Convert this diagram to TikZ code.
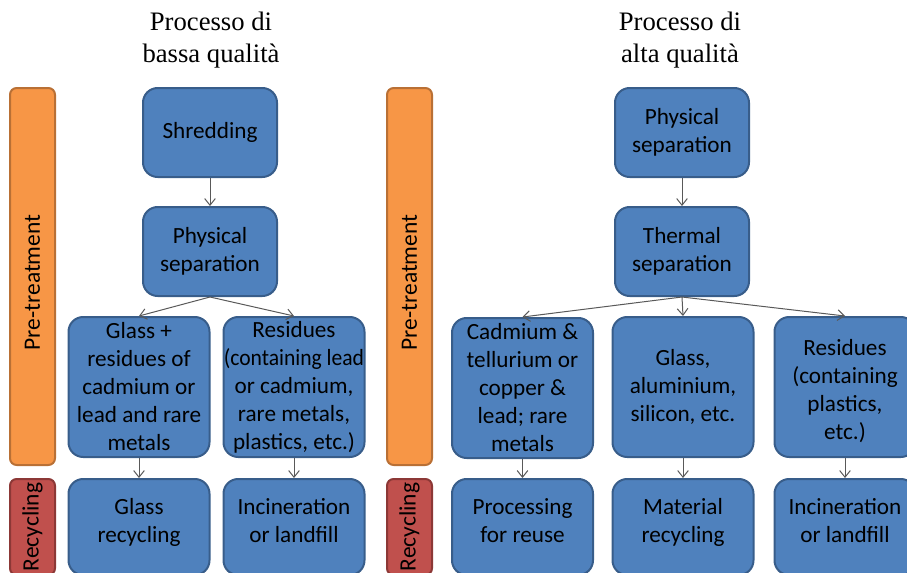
\documentclass[tikz,border=0pt]{standalone}
\usepackage{fontspec}
\setmainfont{Liberation Serif}
\newfontfamily\boxfont{Carlito}
\usetikzlibrary{arrows.meta}

\definecolor{boxfill}{HTML}{4F81BD}
\definecolor{boxline}{HTML}{385D8A}
\definecolor{prefill}{HTML}{F79646}
\definecolor{preline}{HTML}{B97035}
\definecolor{recfill}{HTML}{C0504D}
\definecolor{recline}{HTML}{8C3836}
\definecolor{conngray}{HTML}{595959}

\tikzset{every picture/.style={line width=0.75pt}}
\tikzset{
stepbox/.style={draw=boxline, fill=boxfill, line width=1.5pt, rounded corners=11pt,
  align=center, inner xsep=0pt, inner ysep=1pt, font=\boxfont\fontsize{17.4}{21}\selectfont},
topbox/.style={stepbox, minimum width=100.5pt, minimum height=66.75pt},
midbox/.style={stepbox, minimum width=105.75pt, minimum height=105pt},
lowbox/.style={stepbox, minimum width=105.75pt, minimum height=72pt, text depth=10pt},
phase/.style={rotate=90, line width=1.5pt, rounded corners=5pt, inner sep=0pt,
  minimum height=33.75pt, font=\boxfont\fontsize{17.6}{21}\selectfont},
prebar/.style={phase, draw=preline, fill=prefill, minimum width=282.75pt},
recbar/.style={phase, draw=recline, fill=recfill, minimum width=72pt},
title/.style={align=center, font=\fontsize{20}{23.5}\selectfont},
conn/.style={draw=conngray, line width=0.75pt, -{Straight Barb[length=5pt,width=8pt]}}
}

\begin{document}
\begin{tikzpicture}[x=0.75pt,y=0.75pt,yscale=-1,xscale=1]
\useasboundingbox (0,0) rectangle (907,572);
\clip (0,0) rectangle (907,572);

%Titles
\node[title] (lowtitle) at (211,40) {Processo di\\bassa qualità};
\node[title] (hightitle) at (680,40) {Processo di\\alta qualità};

%Phase bars
\node[prebar] (preL) at (32.5,276.5) {Pre-treatment\kern9pt};
\node[recbar] (recL) at (32.5,527) {Recycling};
\node[prebar] (preR) at (409.5,276.5) {Pre-treatment\kern9pt};
\node[recbar] (recR) at (409.5,527) {Recycling};

%Low quality process
\node[topbox] (shred) at (210,132.5) {Shredding};
\node[topbox] (physL) at (210,251.5) {Physical\\separation};
\node[midbox] (glassL) at (139,387) {Glass +\\residues of\\cadmium or\\lead and rare\\metals};
\node[midbox] (residL) at (294,387) {Residues\\\scalebox{0.93}[1]{(containing lead}\\or cadmium,\\rare metals,\\plastics, etc.)};
\node[lowbox] (glassrec) at (139,527) {Glass\\recycling};
\node[lowbox] (incinL) at (294,527) {Incineration\\or landfill};

%High quality process
\node[topbox] (physR) at (682,132.5) {Physical\\separation};
\node[topbox] (thermal) at (682,251.5) {Thermal\\separation};
\node[midbox] (cadm) at (522.5,388) {Cadmium \&\\tellurium or\\copper \&\\lead; rare\\metals};
\node[midbox] (glassR) at (683,387) {Glass,\\aluminium,\\silicon, etc.};
\node[midbox] (residR) at (845,387) {\rule{0pt}{18pt}Residues\\(containing\\plastics,\\etc.)};
\node[lowbox] (reuse) at (522.5,527) {Processing\\for reuse};
\node[lowbox] (matrec) at (683,527) {Material\\recycling};
\node[lowbox] (incinR) at (845,527) {Incineration\\or landfill};

%Connectors
\draw[conn] (shred) -- (physL);
\draw[conn] (physL.south) -- (glassL.north);
\draw[conn] (physL.south) -- (residL.north);
\draw[conn] (glassL) -- (glassrec);
\draw[conn] (residL) -- (incinL);
\draw[conn] (physR) -- (thermal);
\draw[conn] (thermal.south) -- (cadm.north);
\draw[conn] (thermal.south) -- (glassR.north);
\draw[conn] (thermal.south) -- (residR.north);
\draw[conn] (cadm) -- (reuse);
\draw[conn] (glassR) -- (matrec);
\draw[conn] (residR) -- (incinR);
\end{tikzpicture}
\end{document}
